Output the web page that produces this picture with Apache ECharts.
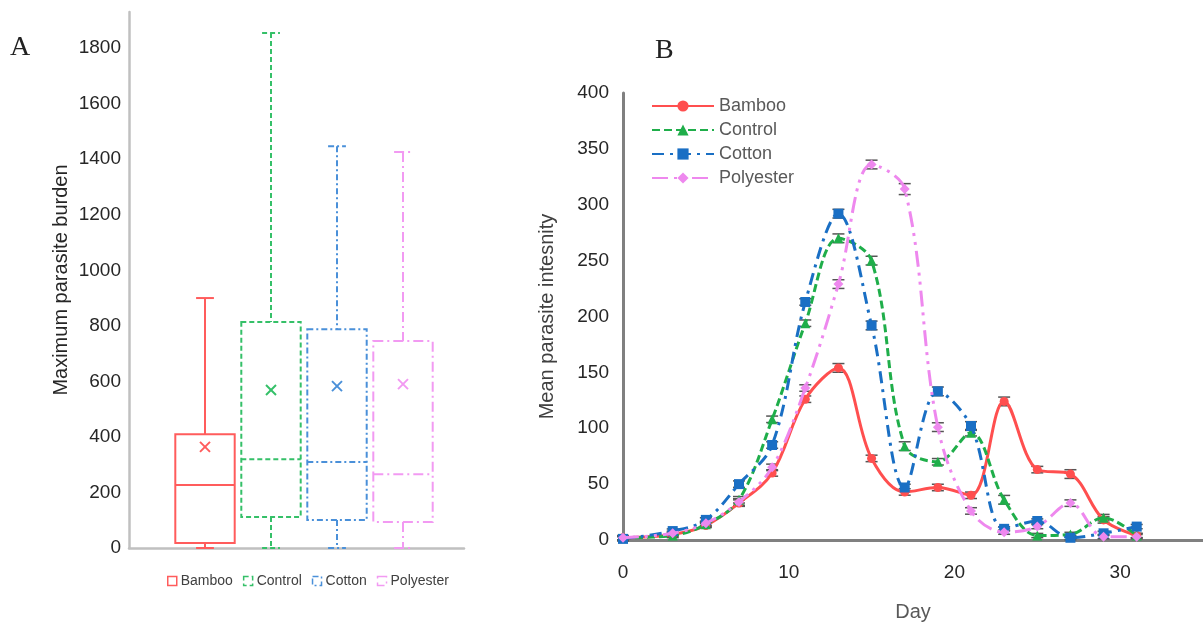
<!DOCTYPE html>
<html><head><meta charset="utf-8">
<script src="https://cdn.jsdelivr.net/npm/echarts@6/dist/echarts.min.js"></script>
<style>html,body{margin:0;padding:0;background:#fff}#c{width:1203px;height:628px}</style>
</head><body><div id="c"></div>
<script>
// ---- Panel A: box plot data ----
const groups = ['Bamboo', 'Control', 'Cotton', 'Polyester'];
const boxMin = [0, 0, 0, 0];
const boxQ1 = [18, 112, 101, 94];
const boxMedian = [227, 320, 310, 266];
const boxQ3 = [410, 814, 788, 745];
const boxMax = [900, 1854, 1447, 1426];
const boxMean = [364, 569, 583, 590];
const burdenTicks = [0, 200, 400, 600, 800, 1000, 1200, 1400, 1600, 1800];

// ---- Panel B: time course data ----
const days = [0, 3, 5, 7, 9, 11, 13, 15, 17, 19, 21, 23, 25, 27, 29, 31];
const bamboo = [2, 5, 13, 33, 60, 126, 154, 73, 43, 47, 40, 124, 63, 59, 18, 4];
const control = [2, 4, 14, 36, 108, 194, 270, 250, 84, 70, 96, 36, 4, 5, 20, 4];
const cotton = [1, 8, 18, 50, 85, 213, 292, 192, 47, 133, 102, 10, 17, 2, 6, 12];
const polyester = [2, 6, 15, 34, 65, 136, 229, 336, 314, 101, 26, 7, 12, 33, 3, 3];
const bambooErr = [1, 1, 1, 2, 2, 2, 3, 2, 2, 2, 2, 3, 2, 3, 2, 1];
const controlErr = [1, 1, 1, 2, 2, 2, 3, 3, 3, 2, 2, 3, 1, 1, 2, 1];
const cottonErr = [1, 1, 1, 2, 2, 2, 3, 3, 2, 3, 3, 1, 1, 1, 1, 1];
const polyesterErr = [1, 1, 1, 2, 2, 2, 3, 3, 4, 3, 2, 1, 1, 2, 1, 1];
const dayTicks = [0, 10, 20, 30];
const intensityTicks = [0, 50, 100, 150, 200, 250, 300, 350, 400];

const boxColors = ['#ff5c5c', '#35c068', '#4a90d9', '#f29af2'];
const boxDash = [null, [5, 3], [6, 3, 2, 3], [10, 4, 2, 4]];
const lineColors = ['#ff4f4f', '#1fae4a', '#1a6fc4', '#ee88ee'];
const lineDash = ['solid', [8, 4], [12, 6, 3, 6], [16, 6, 3, 6, 3, 6]];
const lineSymbols = ['circle', 'triangle', 'rect', 'diamond'];
const lineData = [bamboo, control, cotton, polyester];
const errData = [bambooErr, controlErr, cottonErr, polyesterErr];

const FONT = 'Liberation Sans';

function makeBoxRender(ci) {
  return function (params, api) {
    const x = api.value(0);
    const lo = api.coord([x, api.value(1)]);
    const q1 = api.coord([x, api.value(2)]);
    const md = api.coord([x, api.value(3)]);
    const q3 = api.coord([x, api.value(4)]);
    const hi = api.coord([x, api.value(5)]);
    const mn = api.coord([x, api.value(6)]);
    const bw = api.size([1, 0])[0] * 0.9;
    const cx = lo[0], half = bw / 2, cap = bw * 0.15;
    const st = { stroke: boxColors[ci], lineWidth: 2, fill: null, lineDash: boxDash[ci] || null };
    const line = (x1, y1, x2, y2) => ({ type: 'line', shape: { x1, y1, x2, y2 }, style: st });
    const m = 5;
    return {
      type: 'group', children: [
        line(cx, hi[1], cx, q3[1]),
        line(cx - cap, hi[1], cx + cap, hi[1]),
        { type: 'rect', shape: { x: cx - half, y: q3[1], width: bw, height: q1[1] - q3[1] }, style: st },
        line(cx - half, md[1], cx + half, md[1]),
        line(cx, q1[1], cx, lo[1]),
        line(cx - cap, lo[1], cx + cap, lo[1]),
        { type: 'line', shape: { x1: cx - m, y1: mn[1] - m, x2: cx + m, y2: mn[1] + m }, style: { stroke: boxColors[ci], lineWidth: 2 } },
        { type: 'line', shape: { x1: cx - m, y1: mn[1] + m, x2: cx + m, y2: mn[1] - m }, style: { stroke: boxColors[ci], lineWidth: 2 } }
      ]
    };
  };
}

function errRender(params, api) {
  const d = api.value(0), v = api.value(1), e = api.value(2);
  const top = api.coord([d, v + e]);
  const bot = api.coord([d, v - e]);
  const w = 6;
  const st = { stroke: '#555', lineWidth: 1.5 };
  return {
    type: 'group', children: [
      { type: 'line', shape: { x1: top[0], y1: top[1], x2: bot[0], y2: bot[1] }, style: st },
      { type: 'line', shape: { x1: top[0] - w, y1: top[1] - 1, x2: top[0] + w, y2: top[1] - 1 }, style: st },
      { type: 'line', shape: { x1: bot[0] - w, y1: bot[1] + 1, x2: bot[0] + w, y2: bot[1] + 1 }, style: st }
    ]
  };
}

const series = [];
groups.forEach((g, i) => {
  series.push({
    type: 'custom', name: 'A:' + g, xAxisIndex: 1, yAxisIndex: 1,
    renderItem: makeBoxRender(i),
    itemStyle: { color: boxColors[i] },
    encode: { x: 0, y: [1, 2, 3, 4, 5, 6] },
    data: [[i, boxMin[i], boxQ1[i], boxMedian[i], boxQ3[i], boxMax[i], boxMean[i]]],
    z: 3
  });
});
groups.forEach((g, i) => {
  series.push({
    type: 'custom', name: 'err' + g, xAxisIndex: 2, yAxisIndex: 2,
    renderItem: errRender, silent: true,
    encode: { x: 0, y: 1 },
    data: days.map((d, k) => [d, lineData[i][k], errData[i][k]]),
    z: 2
  });
});
groups.forEach((g, i) => {
  series.push({
    type: 'line', name: g, xAxisIndex: 2, yAxisIndex: 2,
    data: days.map((d, k) => [d, lineData[i][k]]),
    smooth: 0.35,
    symbol: lineSymbols[i],
    symbolSize: i === 0 ? 9 : 10,
    showAllSymbol: true,
    lineStyle: { color: lineColors[i], width: 3, type: lineDash[i] },
    itemStyle: { color: lineColors[i] },
    z: 4 + i
  });
});

const option = {
  animation: false,
  backgroundColor: '#fff',
  textStyle: { fontFamily: FONT },
  grid: [
    { left: 129, top: 12, width: 335, height: 536 },
    { left: 172, top: 12, width: 264, height: 536 },
    { left: 623, top: 93, width: 585, height: 447 }
  ],
  xAxis: [
    { gridIndex: 0, type: 'value', min: 0, max: 1, axisLine: { show: true, lineStyle: { color: '#c0c0c0', width: 2.5 } },
      axisTick: { show: false }, axisLabel: { show: false }, splitLine: { show: false } },
    { gridIndex: 1, type: 'category', data: groups, show: false },
    { gridIndex: 2, type: 'value', min: 0, max: 35, interval: 10,
      axisLine: { show: true, lineStyle: { color: '#808080', width: 3 } },
      axisTick: { show: false }, splitLine: { show: false },
      axisLabel: { margin: 23, fontSize: 19, color: '#262626', fontFamily: FONT,
        formatter: v => dayTicks.includes(v) ? String(v) : '' , showMaxLabel: false },
      name: 'Day', nameLocation: 'middle', nameGap: 62,
      nameTextStyle: { fontSize: 20, color: '#595959', fontFamily: FONT } }
  ],
  yAxis: [
    { gridIndex: 0, type: 'value', min: 0, max: 1930, interval: 200,
      axisLine: { show: true, lineStyle: { color: '#c0c0c0', width: 2.5 } },
      axisTick: { show: false }, splitLine: { show: false },
      axisLabel: { margin: 8, fontSize: 19, color: '#262626', fontFamily: FONT,
        formatter: v => burdenTicks.includes(v) ? String(v) : '', showMaxLabel: false },
      name: 'Maximum parasite burden', nameLocation: 'middle', nameGap: 58,
      nameTextStyle: { fontSize: 20, color: '#262626', fontFamily: FONT } },
    { gridIndex: 1, type: 'value', min: 0, max: 1930, show: false },
    { gridIndex: 2, type: 'value', min: 0, max: 400, interval: 50,
      axisLine: { show: true, lineStyle: { color: '#808080', width: 3 } },
      axisTick: { show: false }, splitLine: { show: false },
      axisLabel: { margin: 14, fontSize: 19, color: '#262626', fontFamily: FONT,
        formatter: v => intensityTicks.includes(v) ? String(v) : '' },
      name: 'Mean parasite intesnity', nameLocation: 'middle', nameGap: 66,
      nameTextStyle: { fontSize: 20, color: '#404040', fontFamily: FONT } }
  ],
  legend: [
    { left: 162, top: 569, itemWidth: 9, itemHeight: 9, itemGap: 10, icon: 'rect',
      textStyle: { fontSize: 14, color: '#404040', fontFamily: FONT, padding: [0, 0, 0, -1] },
      formatter: n => n.slice(2),
      data: groups.map((g, i) => ({ name: 'A:' + g, icon: 'rect',
        itemStyle: { color: '#fff', borderColor: boxColors[i], borderWidth: 1.5, borderType: boxDash[i] || 'solid' } })) },
    { orient: 'vertical', left: 646, top: 92, itemWidth: 62, itemHeight: 14, itemGap: 6,
      textStyle: { fontSize: 18, color: '#595959', fontFamily: FONT, lineHeight: 18 },
      data: groups }
  ],
  graphic: [
    { type: 'text', left: 10, top: 34, style: { text: 'A', font: '28px "Liberation Serif"', fill: '#222' } },
    { type: 'text', left: 655, top: 37, style: { text: 'B', font: '28px "Liberation Serif"', fill: '#222' } }
  ],
  series
};
const chart = echarts.init(document.getElementById('c'), null, { renderer: 'canvas' });
chart.setOption(option);
</script></body></html>
